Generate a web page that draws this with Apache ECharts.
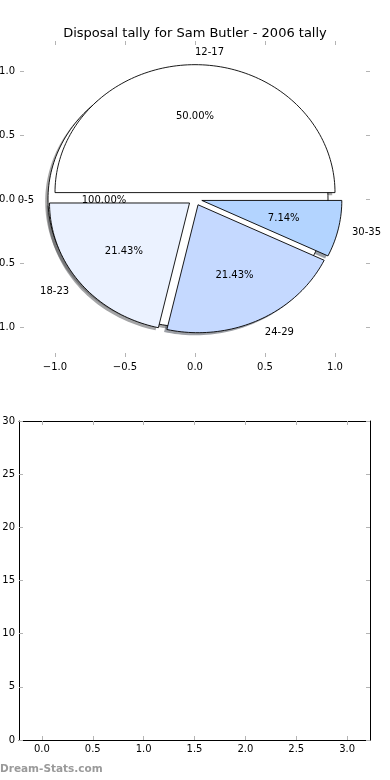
<!DOCTYPE html>
<html>
<head>
<meta charset="utf-8">
<script src="https://cdn.jsdelivr.net/npm/echarts@6/dist/echarts.min.js"></script>
<style>html,body{margin:0;padding:0;background:#fff}#c{width:390px;height:780px}</style>
</head>
<body>
<div id="c"></div>
<script>
// ---- data ----
const categories = ['12-17', '0-5', '18-23', '24-29', '30-35'];
const counts = [7, 0, 3, 3, 1];
const pctLabels = ['50.00%', '100.00%', '21.43%', '21.43%', '7.14%'];
const pieTicks = [-1.0, -0.5, 0.0, 0.5, 1.0];
const barXTicks = [0, 0.5, 1, 1.5, 2, 2.5, 3];
const barYMin = 0, barYMax = 30, barYStep = 5;

// ---- styles ----
const palette = ['#ffffff', '#ffffff', '#ebf2ff', '#c5d9ff', '#b3d4ff'];
const FONT = '"DejaVu Sans", "Liberation Sans", sans-serif';
const explode = 0.05, R = 1, shadowOff = -0.02;

const total = counts.reduce((a, b) => a + b, 0);
let acc = 0;
const slices = counts.map((c) => {
  const frac = c / total;
  const t1 = acc, t2 = acc + 360 * frac; acc = t2;
  const mid = (t1 + t2) / 2 * Math.PI / 180;
  return { t1, t2, mid, cx: explode * Math.cos(mid), cy: explode * Math.sin(mid), full: frac === 0 };
});

function wedgePoints(api, s, dx, dy) {
  const pts = [];
  let a0 = s.t1, a1 = s.t2;
  if (s.full) { a0 = 0; a1 = 360; } else { pts.push(api.coord([s.cx + dx, s.cy + dy])); }
  const n = Math.max(2, Math.ceil((a1 - a0) / 1.5));
  for (let k = 0; k <= n; k++) {
    const a = (a0 + (a1 - a0) * k / n) * Math.PI / 180;
    pts.push(api.coord([s.cx + dx + R * Math.cos(a), s.cy + dy + R * Math.sin(a)]));
  }
  return pts;
}
function shadowColor(hex) {
  const r = parseInt(hex.slice(1, 3), 16), g = parseInt(hex.slice(3, 5), 16), b = parseInt(hex.slice(5, 7), 16);
  return 'rgba(' + Math.round(r * 0.3) + ',' + Math.round(g * 0.3) + ',' + Math.round(b * 0.3) + ',0.5)';
}
const fmt = v => (v < 0 ? '\u2212' : '') + Math.abs(v).toFixed(1);
const tickStyle = { show: true, inside: true, length: 4, lineStyle: { color: '#b4b4b4', width: 1 } };
const lbl = { color: '#000', fontSize: 10, fontFamily: FONT };
const hiddenLine = { show: false, onZero: false };
const frameLine = { show: true, onZero: false, lineStyle: { color: '#000', width: 1 } };

const option = {
  animation: false,
  backgroundColor: '#fff',
  title: {
    text: 'Disposal tally for Sam Butler - 2006 tally',
    left: 'center', top: 22,
    textStyle: { fontSize: 13, fontWeight: 'normal', color: '#000', fontFamily: FONT }
  },
  graphic: [{
    type: 'text', left: 0, top: 764,
    style: { text: 'Dream-Stats.com', font: 'bold 10.5px ' + FONT, fill: '#9a9a9a' }
  }],
  grid: [
    { left: 20, width: 350, top: 41, height: 316, containLabel: false, outerBoundsMode: 'none' },
    { left: 19, right: 20, top: 421, bottom: 40, containLabel: false, outerBoundsMode: 'none' }
  ],
  xAxis: [
    { gridIndex: 0, type: 'value', min: -1.25, max: 1.25, position: 'bottom',
      axisLine: hiddenLine, splitLine: { show: false },
      axisTick: Object.assign({ customValues: pieTicks }, tickStyle),
      axisLabel: Object.assign({ customValues: pieTicks, formatter: fmt, margin: 5 }, lbl) },
    { gridIndex: 0, type: 'value', min: -1.25, max: 1.25, position: 'top',
      axisLine: hiddenLine, splitLine: { show: false },
      axisTick: Object.assign({ customValues: pieTicks }, tickStyle),
      axisLabel: { show: false } },
    { gridIndex: 1, type: 'value', min: -0.225, max: 3.225, position: 'bottom',
      axisLine: frameLine, splitLine: { show: false },
      axisTick: Object.assign({ customValues: barXTicks }, tickStyle),
      axisLabel: Object.assign({ customValues: barXTicks, formatter: fmt, margin: 4 }, lbl) },
    { gridIndex: 1, type: 'value', min: -0.225, max: 3.225, position: 'top',
      axisLine: frameLine, splitLine: { show: false },
      axisTick: Object.assign({ customValues: barXTicks }, tickStyle),
      axisLabel: { show: false } }
  ],
  yAxis: [
    { gridIndex: 0, type: 'value', min: -1.235, max: 1.235, position: 'left',
      axisLine: hiddenLine, splitLine: { show: false },
      axisTick: Object.assign({ customValues: pieTicks }, tickStyle),
      axisLabel: Object.assign({ customValues: pieTicks, formatter: fmt, margin: 5 }, lbl) },
    { gridIndex: 0, type: 'value', min: -1.235, max: 1.235, position: 'right',
      axisLine: hiddenLine, splitLine: { show: false },
      axisTick: Object.assign({ customValues: pieTicks }, tickStyle),
      axisLabel: { show: false } },
    { gridIndex: 1, type: 'value', min: barYMin, max: barYMax, interval: barYStep, position: 'left',
      axisLine: frameLine, splitLine: { show: false },
      axisTick: tickStyle,
      axisLabel: Object.assign({ margin: 4 }, lbl) },
    { gridIndex: 1, type: 'value', min: barYMin, max: barYMax, interval: barYStep, position: 'right',
      axisLine: frameLine, splitLine: { show: false },
      axisTick: tickStyle,
      axisLabel: { show: false } }
  ],
  series: [
    { // shadows
      type: 'custom', xAxisIndex: 0, yAxisIndex: 0, silent: true, z: 1,
      data: categories.map((c) => ({ name: c, value: [0, 0] })),
      renderItem: (params, api) => {
        const i = params.dataIndex, s = slices[i];
        return { type: 'polygon', shape: { points: wedgePoints(api, s, shadowOff, shadowOff) },
                 style: { fill: shadowColor(palette[i]), stroke: null } };
      }
    },
    { // wedges and labels
      type: 'custom', xAxisIndex: 0, yAxisIndex: 0, silent: true, z: 2,
      data: categories.map((c) => ({ name: c, value: [0, 0] })),
      renderItem: (params, api) => {
        const i = params.dataIndex, s = slices[i];
        const cm = Math.cos(s.mid), sm = Math.sin(s.mid);
        const lx = s.cx + 1.1 * R * cm, ly = s.cy + 1.1 * R * sm;
        const px = s.cx + 0.6 * R * cm, py = s.cy + 0.6 * R * sm;
        const lp = api.coord([lx, ly]), pp = api.coord([px, py]);
        return { type: 'group', children: [
          { type: 'polygon', z2: s.full ? 0 : 1, shape: { points: wedgePoints(api, s, 0, 0) },
            style: { fill: palette[i], stroke: '#000', lineWidth: 0.9 } },
          { type: 'text', z2: 100, style: { x: lp[0], y: lp[1] + 1, text: categories[i],
            align: lx > 0 ? 'left' : 'right', verticalAlign: 'middle', fill: '#000', font: '10px ' + FONT } },
          { type: 'text', z2: 100, style: { x: pp[0], y: pp[1] + 1, text: pctLabels[i],
            align: 'center', verticalAlign: 'middle', fill: '#000', font: '10px ' + FONT } }
        ] };
      }
    }
  ]
};
const chart = echarts.init(document.getElementById('c'), null, { renderer: 'canvas' });
chart.setOption(option);
</script>
</body>
</html>
